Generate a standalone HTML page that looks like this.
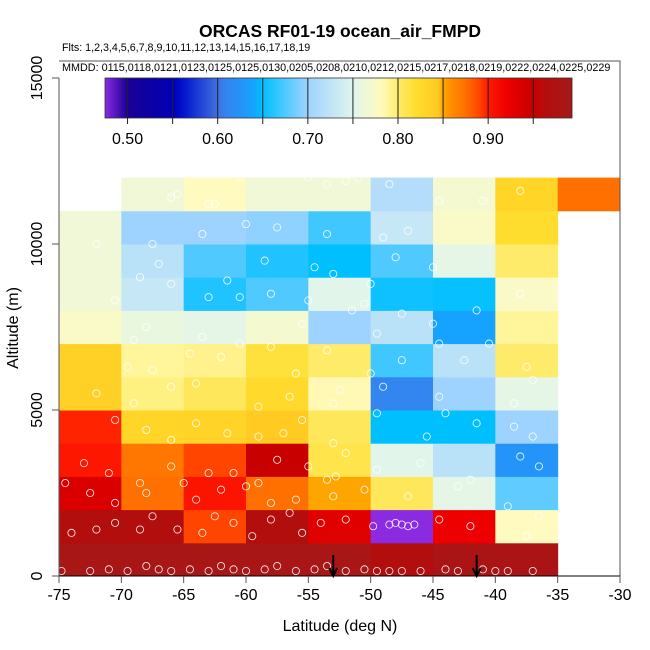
<!DOCTYPE html>
<html><head><meta charset="utf-8">
<style>
html,body{margin:0;padding:0;background:#fff;}
svg{display:block;font-family:"Liberation Sans",Arial,sans-serif;}
</style></head>
<body>
<svg id="chart" width="650" height="650" viewBox="0 0 650 650">
<rect width="650" height="650" fill="#fff"/>
<g id="cells"></g>
<g id="points"></g>
<g id="arrows"></g>
<g id="axes"></g>
<g id="cbar"></g>
<text x="340" y="37" text-anchor="middle" font-size="17.5" font-weight="bold">ORCAS RF01-19 ocean_air_FMPD</text>
<text x="62" y="51" font-size="10.7">Flts: 1,2,3,4,5,6,7,8,9,10,11,12,13,14,15,16,17,18,19</text>
<text x="62" y="71" font-size="10.8">MMDD: 0115,0118,0121,0123,0125,0125,0130,0205,0208,0210,0212,0215,0217,0218,0219,0222,0224,0225,0229</text>
<text x="340" y="631" text-anchor="middle" font-size="16">Latitude (deg N)</text>
<text x="0" y="0" transform="translate(18,328) rotate(-90)" text-anchor="middle" font-size="16">Altitude (m)</text>
</svg>
<script>
const latEdges = [-75,-70,-65,-60,-55,-50,-45,-40,-35,-30];
const altRows = [0,1000,2000,3000,4000,5000,6000,7000,8000,9000,10000,11000];
const row0 = [0.985,0.985,0.985,0.985,0.985,0.965,0.98,0.98,null];
const row1 = [0.965,0.965,0.89,0.965,0.93,0.475,0.92,0.78,null];
const row2 = [0.935,0.875,0.905,0.875,0.85,0.805,0.755,0.68,null];
const row3 = [0.902,0.872,0.89,0.95,0.81,0.752,0.72,0.625,null];
const row4 = [0.898,0.83,0.832,0.843,0.805,0.65,0.65,0.70,null];
const row5 = [0.835,0.795,0.805,0.825,0.783,0.61,0.70,0.755,null];
const row6 = [0.835,0.79,0.793,0.815,0.80,0.67,0.72,0.80,null];
const row7 = [0.775,0.76,0.755,0.77,0.70,0.72,0.64,0.79,null];
const row8 = [0.765,0.73,0.66,0.675,0.752,0.655,0.652,0.775,null];
const row9 = [0.765,0.72,0.675,0.66,0.65,0.675,0.755,0.80,null];
const row10 = [0.765,0.70,0.70,0.695,0.67,0.73,0.775,0.82,null];
const row11 = [null,0.765,0.78,0.765,0.765,0.715,0.77,0.83,0.875];
const gridValues = [row0,row1,row2,row3,row4,row5,row6,row7,row8,row9,row10,row11];
const xTicks = [-75,-70,-65,-60,-55,-50,-45,-40,-35,-30];
const yTicks = [0,5000,10000,15000];
const cbTicks = [0.50,0.60,0.70,0.80,0.90];
const pointLat = [-74.8,-72.5,-71,-69.5,-68,-67,-66,-64.5,-63,-62,-61,-60,-58.5,-57.5,-56,-54.5,-53.5,-52,-50.5,-49.5,-48.5,-47.5,-46,-44,-43,-41,-40,-39,-37,-74,-72,-70.5,-68.5,-67.5,-65.5,-63.5,-62.5,-61,-59.5,-58,-56.5,-55.5,-54,-52,-49.8,-48.5,-48,-47.5,-47,-46.5,-44.5,-42,-37.5,-74.5,-72.5,-70.5,-68,-65,-64,-62,-60,-58,-56,-53,-50.5,-47,-43,-39,-36.5,-73,-71,-68.5,-66,-63,-61,-59,-57.5,-55,-53.5,-52.8,-49.5,-46,-42,-38,-36.5,-70.5,-68,-66,-64,-61.5,-59,-57,-55.5,-53,-52,-49.5,-45.5,-44,-41.5,-38.5,-37,-72,-69,-66,-64,-59,-56.5,-53,-52.5,-49,-44.5,-38.5,-37,-69.5,-67.5,-64.5,-62,-58,-56,-53.5,-50,-47.5,-44.5,-42.5,-37.5,-69,-68,-63.5,-60.5,-55.5,-49.5,-47.5,-45,-40.5,-70.5,-66,-63,-60.5,-58,-55,-51.5,-50.5,-41.5,-38,-68.5,-67,-61.5,-58.5,-54.5,-53,-50,-48,-45,-72,-67.5,-63.5,-60,-57.5,-53.5,-49,-47,-41,-38,-66,-63,-62.5,-56,-53.5,-51,-48.5,-44.5,-65.5,-60.5,-55,-52,-38.5,-67,-65,-60,-56,-54,-48,-63.5,-53,-48];
const pointAlt = [150,150,200,150,300,200,150,200,150,300,200,150,200,300,150,200,300,150,200,150,150,150,150,200,150,200,150,150,150,1300,1400,1600,1400,1800,1400,1300,1800,1600,1200,1700,1900,1300,1600,1700,1500,1550,1600,1550,1500,1550,1700,1500,1200,2800,2500,2200,2500,2800,2300,2600,2700,2200,2300,2400,2600,2400,2700,2100,1800,3400,3100,2800,3300,3100,3100,2800,3500,3300,2900,3000,3200,3400,2900,3600,3300,4700,4400,4100,4600,4300,4200,4300,4700,4000,3700,4900,4200,4900,4600,4500,4200,5500,5200,5700,5800,5100,5400,5200,5600,5700,5400,5200,5900,6300,6200,6700,6600,6900,6100,6800,6100,6500,7000,6500,6300,7100,7500,7200,7000,7600,7300,7900,7600,7000,8300,8800,8400,8400,8500,8300,8000,8200,8000,8500,9000,9400,8900,9500,9300,9100,8800,9600,9300,10000,10000,10300,10600,10500,10300,10200,10400,11300,11600,11400,11200,11200,12300,11800,12000,11800,11300,11500,12000,12000,11900];
const arrowLat = [-53,-41.5];

const NS='http://www.w3.org/2000/svg';
const X0=59,X1=620,Y0=576,YTOP=78;
function xs(v){return X0+(v+75)/45*(X1-X0);}
function ys(v){return Y0-v/15000*(Y0-YTOP);}
const stops=[[0.475,'#8a2be2'],[0.50,'#1a0096'],[0.55,'#0000b4'],[0.56,'#0010cc'],[0.60,'#4070e0'],[0.61,'#3385f0'],[0.64,'#16a3ff'],[0.65,'#00bfff'],[0.70,'#9fd3ff'],[0.75,'#e0f5ee'],[0.78,'#fffbc0'],[0.79,'#fff59a'],[0.80,'#ffeb6a'],[0.82,'#ffdd2e'],[0.845,'#ffc820'],[0.85,'#ffa500'],[0.86,'#ff8c00'],[0.875,'#ff7000'],[0.89,'#ff4500'],[0.90,'#ff1a00'],[0.92,'#ee0000'],[0.95,'#c80000'],[0.965,'#b30e0e'],[0.995,'#a31a1a']];
function hx(c){return [1,3,5].map(i=>parseInt(c.substr(i,2),16));}
function cmap(v){
  if(v<=stops[0][0])return stops[0][1];
  for(let i=1;i<stops.length;i++){
    if(v<=stops[i][0]){
      const a=hx(stops[i-1][1]),b=hx(stops[i][1]);
      const t=(v-stops[i-1][0])/(stops[i][0]-stops[i-1][0]);
      return 'rgb('+a.map((q,k)=>Math.round(q+(b[k]-q)*t)).join(',')+')';
    }
  }
  return stops[stops.length-1][1];
}
function mk(tag,attrs,parent){const e=document.createElementNS(NS,tag);for(const k in attrs)e.setAttribute(k,attrs[k]);parent.appendChild(e);return e;}

const cells=document.getElementById('cells');
gridValues.forEach((row,r)=>{row.forEach((v,c)=>{
  if(v===null)return;
  const x=xs(latEdges[c]),x2=xs(latEdges[c+1]);
  const y=ys(altRows[r]+1000),y2=ys(altRows[r]);
  const e=mk('rect',{x:x,y:y,width:x2-x+0.5,height:y2-y+0.5,fill:cmap(v)},cells);
  
  
});});

const pts=document.getElementById('points');
pointLat.forEach((la,i)=>{
  const e=mk('circle',{cx:xs(la),cy:ys(pointAlt[i]),r:3.6,fill:'none',stroke:'#fff','stroke-opacity':0.85,'stroke-width':0.9},pts);
  
  
});

const arr=document.getElementById('arrows');
arrowLat.forEach(la=>{
  const x=xs(la);
  const g=mk('g',{},arr);
  
  
  mk('line',{x1:x,y1:555,x2:x,y2:575,stroke:'#000','stroke-width':2},g);
  mk('path',{d:`M${x-4},568 L${x},576 L${x+4},568`,fill:'none',stroke:'#000','stroke-width':2},g);
});

const ax=document.getElementById('axes');
mk('path',{d:`M${X0},61 L${X1},61 L${X1},${Y0}`,fill:'none',stroke:'#555','stroke-width':1},ax);
mk('line',{x1:X0,y1:Y0,x2:X1,y2:Y0,stroke:'#000','stroke-width':1},ax);
mk('line',{x1:X0,y1:YTOP,x2:X0,y2:Y0,stroke:'#555','stroke-width':1},ax);
xTicks.forEach(t=>{
  const x=xs(t);
  mk('line',{x1:x,y1:Y0,x2:x,y2:Y0+7,stroke:'#555'},ax);
  const e=mk('text',{x:x,y:600,'text-anchor':'middle','font-size':16},ax);
  e.textContent=t;
  
  
});
yTicks.forEach(t=>{
  const y=ys(t);
  mk('line',{x1:X0-7,y1:y,x2:X0,y2:y,stroke:'#555'},ax);
  const e=mk('text',{x:0,y:0,transform:`translate(42,${y}) rotate(-90)`,'text-anchor':'middle','font-size':16},ax);
  e.textContent=t;
  
  
});

const cb=document.getElementById('cbar');
const CB0=0.475,CB1=0.993,CX0=105,CX1=572,CY0=78,CY1=118;
function cx(v){return CX0+(v-CB0)/(CB1-CB0)*(CX1-CX0);}
for(let x=CX0;x<CX1;x+=1){
  const v=CB0+(x-CX0+0.5)/(CX1-CX0)*(CB1-CB0);
  mk('rect',{x:x,y:CY0,width:1.2,height:CY1-CY0,fill:cmap(v)},cb);
}
mk('rect',{x:CX0,y:CY0,width:CX1-CX0,height:CY1-CY0,fill:'none',stroke:'#333','stroke-width':0.8},cb);
for(let k=0;k<10;k++){
  const v=0.50+k*0.05; if(v>CB1)break;
  mk('line',{x1:cx(v),y1:CY0,x2:cx(v),y2:CY1+6,stroke:'#222','stroke-width':1},cb);
}
cbTicks.forEach(t=>{
  const e=mk('text',{x:cx(t),y:144,'text-anchor':'middle','font-size':16},cb);
  e.textContent=t.toFixed(2);
  
  
});
</script>
</body></html>
